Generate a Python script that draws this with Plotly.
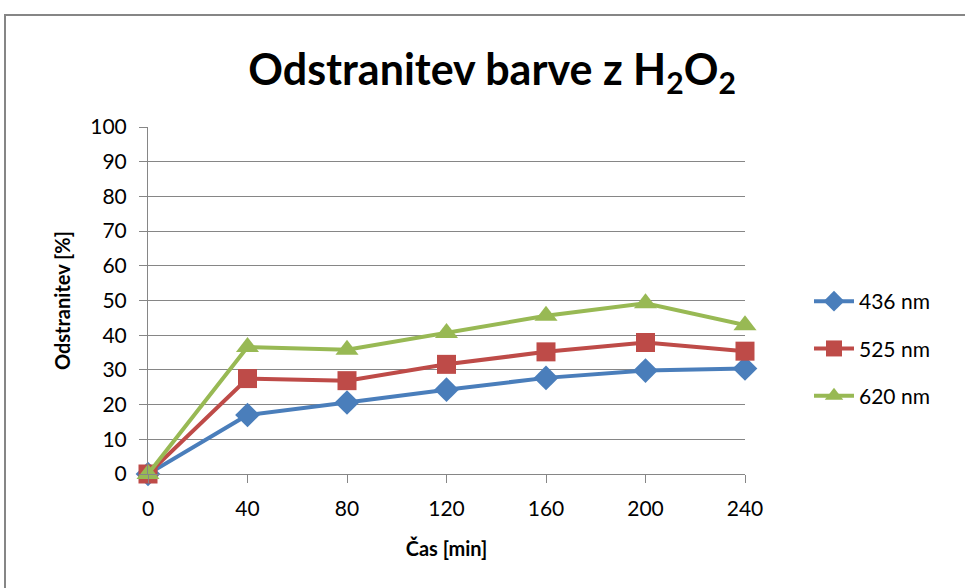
import plotly.graph_objects as go

time_min = [0, 40, 80, 120, 160, 200, 240]
s436 = [0, 17.0, 20.6, 24.3, 27.7, 29.8, 30.4]
s525 = [0, 27.5, 26.9, 31.6, 35.2, 37.9, 35.4]
s620 = [0, 36.6, 35.8, 40.6, 45.6, 49.2, 42.9]
series_names = ["436 nm", "525 nm", "620 nm"]
colors = ["#4A7EBB", "#BE4B48", "#98B954"]
symbols = ["diamond", "square", "triangle-up"]
sizes = [19, 19, 20]

FONT = "Lato"

fig = go.Figure()
for i, (name, vals) in enumerate(zip(series_names, [s436, s525, s620])):
    fig.add_trace(go.Scatter(
        x=time_min, y=vals, name=name, mode="lines+markers",
        line=dict(color=colors[i], width=4),
        marker=dict(symbol=symbols[i], size=sizes[i], color=colors[i]),
        cliponaxis=False, legendgroup=name,
    ))

L, R, T, B = 148, 745, 127, 474
W, H = 965, 588
pw, ph = R - L, B - T

def px_x(p):
    return (p - L) / pw

def px_y(p):
    return (B - p) / ph

fig.update_layout(
    width=W, height=H,
    margin=dict(l=L, r=W - R, t=T, b=H - B),
    paper_bgcolor="white", plot_bgcolor="white",
    font=dict(family=FONT, color="#000000", size=21),
    title=dict(text="<b>Odstranitev barve z H<sub>2</sub>O<sub>2</sub></b>",
               x=0.51, xanchor="center", y=1 - 70 / H, yanchor="middle",
               font=dict(size=43, family=FONT)),
    showlegend=True,
    legend=dict(x=px_x(809), xanchor="left", y=px_y(281), yanchor="top",
                font=dict(size=21, family=FONT), tracegroupgap=17,
                bgcolor="rgba(0,0,0,0)", itemwidth=40),
    xaxis=dict(range=[0, 240], tickmode="array", tickvals=time_min,
               ticktext=[str(t) for t in time_min],
               showgrid=False, zeroline=False, showline=True,
               linecolor="#868686", linewidth=1,
               ticks="outside", ticklen=8, tickcolor="#868686",
               tickfont=dict(size=21), ticklabelstandoff=8,
               title=dict(text="<b>Čas [min]</b>", font=dict(size=20), standoff=22)),
    yaxis=dict(range=[0, 100], dtick=10, showgrid=True, gridcolor="#868686",
               gridwidth=1, zeroline=False, showline=True,
               linecolor="#868686", linewidth=1,
               ticks="outside", ticklen=8, tickcolor="#868686",
               tickfont=dict(size=21), ticklabelstandoff=8,
               title=dict(text="<b>Odstranitev [%]</b>", font=dict(size=20), standoff=14)),
    shapes=[dict(type="rect", xref="paper", yref="paper",
                 x0=px_x(5), x1=px_x(975), y0=px_y(600), y1=px_y(15),
                 line=dict(color="#868686", width=2), fillcolor="rgba(0,0,0,0)",
                 layer="below")],
)

fig.write_html("out.html")
